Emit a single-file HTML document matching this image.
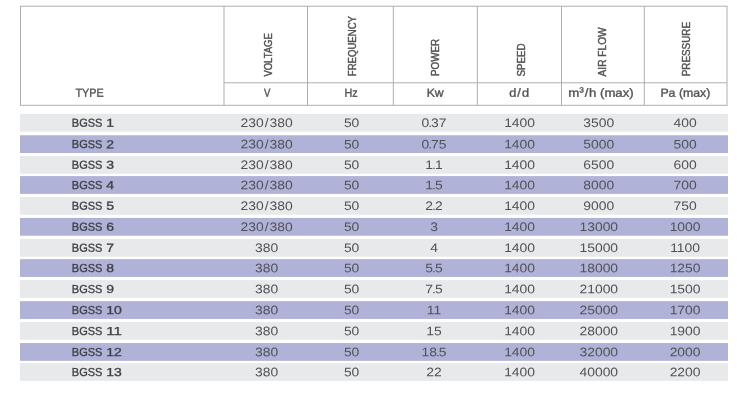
<!DOCTYPE html>
<html lang="en">
<head>
<meta charset="utf-8">
<title>BGSS specifications</title>
<style>
html,body{margin:0;padding:0;background:#fff;}
body{width:737px;height:409px;overflow:hidden;}
svg{display:block;}
text{font-family:"Liberation Sans",sans-serif;}
</style>
</head>
<body>
<svg width="737" height="409" viewBox="0 0 737 409">
<rect x="0" y="0" width="737" height="409" fill="#fff"/>
<g fill="none" stroke="#adaeb2" stroke-width="1">
<rect x="20.5" y="6.2" width="706.5" height="99.1"/>
<line x1="224.0" y1="6.2" x2="224.0" y2="105.3"/>
<line x1="307.5" y1="6.2" x2="307.5" y2="105.3"/>
<line x1="393.3" y1="6.2" x2="393.3" y2="105.3"/>
<line x1="477.3" y1="6.2" x2="477.3" y2="105.3"/>
<line x1="561.5" y1="6.2" x2="561.5" y2="105.3"/>
<line x1="644.3" y1="6.2" x2="644.3" y2="105.3"/>
<line x1="224.0" y1="82.8" x2="727.0" y2="82.8"/>
</g>
<g fill="#525256" stroke="#525256" stroke-width="0.42" font-size="10.3">
<text transform="translate(272.0 76.6) rotate(-90)" textLength="43.4" lengthAdjust="spacingAndGlyphs">VOLTAGE</text>
<text transform="translate(356.0 76.2) rotate(-90)" textLength="60.2" lengthAdjust="spacingAndGlyphs">FREQUENCY</text>
<text transform="translate(439.3 76.0) rotate(-90)" textLength="37.0" lengthAdjust="spacingAndGlyphs">POWER</text>
<text transform="translate(524.5 76.4) rotate(-90)" textLength="33.0" lengthAdjust="spacingAndGlyphs">SPEED</text>
<text transform="translate(605.7 76.4) rotate(-90)" textLength="49.0" lengthAdjust="spacingAndGlyphs">AIR FLOW</text>
<text transform="translate(690.4 76.3) rotate(-90)" textLength="54.4" lengthAdjust="spacingAndGlyphs">PRESSURE</text>
</g>
<g fill="#525256" stroke="#525256" stroke-width="0.35" font-size="11.8" text-anchor="middle">
<text transform="matrix(1 0.002 0 1 89.6 96.7)" textLength="28.2" lengthAdjust="spacingAndGlyphs">TYPE</text>
<text transform="matrix(1 0.002 0 1 267.2 96.7)" textLength="6.4" lengthAdjust="spacingAndGlyphs">V</text>
<text transform="matrix(1 0.002 0 1 351.0 96.7)" textLength="13.2" lengthAdjust="spacingAndGlyphs">Hz</text>
<text transform="matrix(1 0.002 0 1 435.2 96.7)" textLength="17.0" lengthAdjust="spacingAndGlyphs">Kw</text>
<text transform="matrix(1.08 0.002 0 1 519.1 96.7)">d<tspan dx="1">/</tspan><tspan dx="1">d</tspan></text>
<text transform="matrix(1.118 0.002 0 1 601.0 96.7)">m<tspan font-size="7.5" dy="-4.2">3</tspan><tspan dy="4.2" dx="0.6">/</tspan><tspan dx="0.6">h (max)</tspan></text>
<text transform="matrix(1 0.002 0 1 685.4 96.7)" textLength="50.0" lengthAdjust="spacingAndGlyphs">Pa (max)</text>
</g>
<rect x="20" y="113.85" width="708" height="17.8" fill="#e8e9ea"/>
<rect x="20" y="135.25" width="708" height="17.8" fill="#b0b2d8"/>
<rect x="20" y="155.95" width="708" height="17.8" fill="#e8e9ea"/>
<rect x="20" y="176.10" width="708" height="17.8" fill="#b0b2d8"/>
<rect x="20" y="196.95" width="708" height="17.8" fill="#e8e9ea"/>
<rect x="20" y="217.95" width="708" height="17.8" fill="#b0b2d8"/>
<rect x="20" y="238.95" width="708" height="17.8" fill="#e8e9ea"/>
<rect x="20" y="259.15" width="708" height="17.8" fill="#b0b2d8"/>
<rect x="20" y="280.05" width="708" height="17.8" fill="#e8e9ea"/>
<rect x="20" y="301.15" width="708" height="17.8" fill="#b0b2d8"/>
<rect x="20" y="322.05" width="708" height="17.8" fill="#e8e9ea"/>
<rect x="20" y="343.05" width="708" height="17.8" fill="#b0b2d8"/>
<rect x="20" y="363.05" width="708" height="17.8" fill="#e8e9ea"/>
<text transform="matrix(1 0.002 0 1 71.8 126.70)" font-size="11.6" fill="#404046" stroke="#404046" stroke-width="0.32"><tspan textLength="33.66" lengthAdjust="spacingAndGlyphs">BGSS </tspan><tspan dx="0.84" textLength="7.8" lengthAdjust="spacingAndGlyphs">1</tspan></text>
<text transform="matrix(1.12 0.002 0 1 266.6 127.00)" font-size="12.4" fill="#525256" text-anchor="middle">230<tspan dx="0.9">/</tspan><tspan dx="0.9">380</tspan></text>
<text transform="matrix(1.12 0.002 0 1 351.6 127.00)" font-size="12.4" fill="#525256" text-anchor="middle">50</text>
<text transform="matrix(1.12 0.002 0 1 434.0 127.00)" font-size="12.4" fill="#525256" text-anchor="middle">0<tspan dx="-0.9">.</tspan><tspan dx="-0.9">37</tspan></text>
<text transform="matrix(1.12 0.002 0 1 519.6 127.00)" font-size="12.4" fill="#525256" text-anchor="middle">1400</text>
<text transform="matrix(1.12 0.002 0 1 598.8 127.00)" font-size="12.4" fill="#525256" text-anchor="middle">3500</text>
<text transform="matrix(1.12 0.002 0 1 685.1 127.00)" font-size="12.4" fill="#525256" text-anchor="middle">400</text>
<text transform="matrix(1 0.002 0 1 71.8 148.10)" font-size="11.6" fill="#404046" stroke="#404046" stroke-width="0.32"><tspan textLength="33.66" lengthAdjust="spacingAndGlyphs">BGSS </tspan><tspan dx="0.84" textLength="7.8" lengthAdjust="spacingAndGlyphs">2</tspan></text>
<text transform="matrix(1.12 0.002 0 1 266.6 148.40)" font-size="12.4" fill="#525256" text-anchor="middle">230<tspan dx="0.9">/</tspan><tspan dx="0.9">380</tspan></text>
<text transform="matrix(1.12 0.002 0 1 351.6 148.40)" font-size="12.4" fill="#525256" text-anchor="middle">50</text>
<text transform="matrix(1.12 0.002 0 1 434.0 148.40)" font-size="12.4" fill="#525256" text-anchor="middle">0<tspan dx="-0.9">.</tspan><tspan dx="-0.9">75</tspan></text>
<text transform="matrix(1.12 0.002 0 1 519.6 148.40)" font-size="12.4" fill="#525256" text-anchor="middle">1400</text>
<text transform="matrix(1.12 0.002 0 1 598.8 148.40)" font-size="12.4" fill="#525256" text-anchor="middle">5000</text>
<text transform="matrix(1.12 0.002 0 1 685.1 148.40)" font-size="12.4" fill="#525256" text-anchor="middle">500</text>
<text transform="matrix(1 0.002 0 1 71.8 168.80)" font-size="11.6" fill="#404046" stroke="#404046" stroke-width="0.32"><tspan textLength="33.66" lengthAdjust="spacingAndGlyphs">BGSS </tspan><tspan dx="0.84" textLength="7.8" lengthAdjust="spacingAndGlyphs">3</tspan></text>
<text transform="matrix(1.12 0.002 0 1 266.6 169.10)" font-size="12.4" fill="#525256" text-anchor="middle">230<tspan dx="0.9">/</tspan><tspan dx="0.9">380</tspan></text>
<text transform="matrix(1.12 0.002 0 1 351.6 169.10)" font-size="12.4" fill="#525256" text-anchor="middle">50</text>
<text transform="matrix(1.12 0.002 0 1 434.0 169.10)" font-size="12.4" fill="#525256" text-anchor="middle">1<tspan dx="-0.9">.</tspan><tspan dx="-0.9">1</tspan></text>
<text transform="matrix(1.12 0.002 0 1 519.6 169.10)" font-size="12.4" fill="#525256" text-anchor="middle">1400</text>
<text transform="matrix(1.12 0.002 0 1 598.8 169.10)" font-size="12.4" fill="#525256" text-anchor="middle">6500</text>
<text transform="matrix(1.12 0.002 0 1 685.1 169.10)" font-size="12.4" fill="#525256" text-anchor="middle">600</text>
<text transform="matrix(1 0.002 0 1 71.8 188.95)" font-size="11.6" fill="#404046" stroke="#404046" stroke-width="0.32"><tspan textLength="33.66" lengthAdjust="spacingAndGlyphs">BGSS </tspan><tspan dx="0.84" textLength="7.8" lengthAdjust="spacingAndGlyphs">4</tspan></text>
<text transform="matrix(1.12 0.002 0 1 266.6 189.25)" font-size="12.4" fill="#525256" text-anchor="middle">230<tspan dx="0.9">/</tspan><tspan dx="0.9">380</tspan></text>
<text transform="matrix(1.12 0.002 0 1 351.6 189.25)" font-size="12.4" fill="#525256" text-anchor="middle">50</text>
<text transform="matrix(1.12 0.002 0 1 434.0 189.25)" font-size="12.4" fill="#525256" text-anchor="middle">1<tspan dx="-0.9">.</tspan><tspan dx="-0.9">5</tspan></text>
<text transform="matrix(1.12 0.002 0 1 519.6 189.25)" font-size="12.4" fill="#525256" text-anchor="middle">1400</text>
<text transform="matrix(1.12 0.002 0 1 598.8 189.25)" font-size="12.4" fill="#525256" text-anchor="middle">8000</text>
<text transform="matrix(1.12 0.002 0 1 685.1 189.25)" font-size="12.4" fill="#525256" text-anchor="middle">700</text>
<text transform="matrix(1 0.002 0 1 71.8 209.80)" font-size="11.6" fill="#404046" stroke="#404046" stroke-width="0.32"><tspan textLength="33.66" lengthAdjust="spacingAndGlyphs">BGSS </tspan><tspan dx="0.84" textLength="7.8" lengthAdjust="spacingAndGlyphs">5</tspan></text>
<text transform="matrix(1.12 0.002 0 1 266.6 210.10)" font-size="12.4" fill="#525256" text-anchor="middle">230<tspan dx="0.9">/</tspan><tspan dx="0.9">380</tspan></text>
<text transform="matrix(1.12 0.002 0 1 351.6 210.10)" font-size="12.4" fill="#525256" text-anchor="middle">50</text>
<text transform="matrix(1.12 0.002 0 1 434.0 210.10)" font-size="12.4" fill="#525256" text-anchor="middle">2<tspan dx="-0.9">.</tspan><tspan dx="-0.9">2</tspan></text>
<text transform="matrix(1.12 0.002 0 1 519.6 210.10)" font-size="12.4" fill="#525256" text-anchor="middle">1400</text>
<text transform="matrix(1.12 0.002 0 1 598.8 210.10)" font-size="12.4" fill="#525256" text-anchor="middle">9000</text>
<text transform="matrix(1.12 0.002 0 1 685.1 210.10)" font-size="12.4" fill="#525256" text-anchor="middle">750</text>
<text transform="matrix(1 0.002 0 1 71.8 230.80)" font-size="11.6" fill="#404046" stroke="#404046" stroke-width="0.32"><tspan textLength="33.66" lengthAdjust="spacingAndGlyphs">BGSS </tspan><tspan dx="0.84" textLength="7.8" lengthAdjust="spacingAndGlyphs">6</tspan></text>
<text transform="matrix(1.12 0.002 0 1 266.6 231.10)" font-size="12.4" fill="#525256" text-anchor="middle">230<tspan dx="0.9">/</tspan><tspan dx="0.9">380</tspan></text>
<text transform="matrix(1.12 0.002 0 1 351.6 231.10)" font-size="12.4" fill="#525256" text-anchor="middle">50</text>
<text transform="matrix(1.12 0.002 0 1 434.0 231.10)" font-size="12.4" fill="#525256" text-anchor="middle">3</text>
<text transform="matrix(1.12 0.002 0 1 519.6 231.10)" font-size="12.4" fill="#525256" text-anchor="middle">1400</text>
<text transform="matrix(1.12 0.002 0 1 598.8 231.10)" font-size="12.4" fill="#525256" text-anchor="middle">13000</text>
<text transform="matrix(1.12 0.002 0 1 685.1 231.10)" font-size="12.4" fill="#525256" text-anchor="middle">1000</text>
<text transform="matrix(1 0.002 0 1 71.8 251.80)" font-size="11.6" fill="#404046" stroke="#404046" stroke-width="0.32"><tspan textLength="33.66" lengthAdjust="spacingAndGlyphs">BGSS </tspan><tspan dx="0.84" textLength="7.8" lengthAdjust="spacingAndGlyphs">7</tspan></text>
<text transform="matrix(1.12 0.002 0 1 266.6 252.10)" font-size="12.4" fill="#525256" text-anchor="middle">380</text>
<text transform="matrix(1.12 0.002 0 1 351.6 252.10)" font-size="12.4" fill="#525256" text-anchor="middle">50</text>
<text transform="matrix(1.12 0.002 0 1 434.0 252.10)" font-size="12.4" fill="#525256" text-anchor="middle">4</text>
<text transform="matrix(1.12 0.002 0 1 519.6 252.10)" font-size="12.4" fill="#525256" text-anchor="middle">1400</text>
<text transform="matrix(1.12 0.002 0 1 598.8 252.10)" font-size="12.4" fill="#525256" text-anchor="middle">15000</text>
<text transform="matrix(1.12 0.002 0 1 685.1 252.10)" font-size="12.4" fill="#525256" text-anchor="middle">1100</text>
<text transform="matrix(1 0.002 0 1 71.8 272.00)" font-size="11.6" fill="#404046" stroke="#404046" stroke-width="0.32"><tspan textLength="33.66" lengthAdjust="spacingAndGlyphs">BGSS </tspan><tspan dx="0.84" textLength="7.8" lengthAdjust="spacingAndGlyphs">8</tspan></text>
<text transform="matrix(1.12 0.002 0 1 266.6 272.30)" font-size="12.4" fill="#525256" text-anchor="middle">380</text>
<text transform="matrix(1.12 0.002 0 1 351.6 272.30)" font-size="12.4" fill="#525256" text-anchor="middle">50</text>
<text transform="matrix(1.12 0.002 0 1 434.0 272.30)" font-size="12.4" fill="#525256" text-anchor="middle">5<tspan dx="-0.9">.</tspan><tspan dx="-0.9">5</tspan></text>
<text transform="matrix(1.12 0.002 0 1 519.6 272.30)" font-size="12.4" fill="#525256" text-anchor="middle">1400</text>
<text transform="matrix(1.12 0.002 0 1 598.8 272.30)" font-size="12.4" fill="#525256" text-anchor="middle">18000</text>
<text transform="matrix(1.12 0.002 0 1 685.1 272.30)" font-size="12.4" fill="#525256" text-anchor="middle">1250</text>
<text transform="matrix(1 0.002 0 1 71.8 292.90)" font-size="11.6" fill="#404046" stroke="#404046" stroke-width="0.32"><tspan textLength="33.66" lengthAdjust="spacingAndGlyphs">BGSS </tspan><tspan dx="0.84" textLength="7.8" lengthAdjust="spacingAndGlyphs">9</tspan></text>
<text transform="matrix(1.12 0.002 0 1 266.6 293.20)" font-size="12.4" fill="#525256" text-anchor="middle">380</text>
<text transform="matrix(1.12 0.002 0 1 351.6 293.20)" font-size="12.4" fill="#525256" text-anchor="middle">50</text>
<text transform="matrix(1.12 0.002 0 1 434.0 293.20)" font-size="12.4" fill="#525256" text-anchor="middle">7<tspan dx="-0.9">.</tspan><tspan dx="-0.9">5</tspan></text>
<text transform="matrix(1.12 0.002 0 1 519.6 293.20)" font-size="12.4" fill="#525256" text-anchor="middle">1400</text>
<text transform="matrix(1.12 0.002 0 1 598.8 293.20)" font-size="12.4" fill="#525256" text-anchor="middle">21000</text>
<text transform="matrix(1.12 0.002 0 1 685.1 293.20)" font-size="12.4" fill="#525256" text-anchor="middle">1500</text>
<text transform="matrix(1 0.002 0 1 71.8 314.00)" font-size="11.6" fill="#404046" stroke="#404046" stroke-width="0.32"><tspan textLength="33.66" lengthAdjust="spacingAndGlyphs">BGSS </tspan><tspan dx="0.84" textLength="15.6" lengthAdjust="spacingAndGlyphs">10</tspan></text>
<text transform="matrix(1.12 0.002 0 1 266.6 314.30)" font-size="12.4" fill="#525256" text-anchor="middle">380</text>
<text transform="matrix(1.12 0.002 0 1 351.6 314.30)" font-size="12.4" fill="#525256" text-anchor="middle">50</text>
<text transform="matrix(1.12 0.002 0 1 434.0 314.30)" font-size="12.4" fill="#525256" text-anchor="middle">11</text>
<text transform="matrix(1.12 0.002 0 1 519.6 314.30)" font-size="12.4" fill="#525256" text-anchor="middle">1400</text>
<text transform="matrix(1.12 0.002 0 1 598.8 314.30)" font-size="12.4" fill="#525256" text-anchor="middle">25000</text>
<text transform="matrix(1.12 0.002 0 1 685.1 314.30)" font-size="12.4" fill="#525256" text-anchor="middle">1700</text>
<text transform="matrix(1 0.002 0 1 71.8 334.90)" font-size="11.6" fill="#404046" stroke="#404046" stroke-width="0.32"><tspan textLength="33.66" lengthAdjust="spacingAndGlyphs">BGSS </tspan><tspan dx="0.84" textLength="15.6" lengthAdjust="spacingAndGlyphs">11</tspan></text>
<text transform="matrix(1.12 0.002 0 1 266.6 335.20)" font-size="12.4" fill="#525256" text-anchor="middle">380</text>
<text transform="matrix(1.12 0.002 0 1 351.6 335.20)" font-size="12.4" fill="#525256" text-anchor="middle">50</text>
<text transform="matrix(1.12 0.002 0 1 434.0 335.20)" font-size="12.4" fill="#525256" text-anchor="middle">15</text>
<text transform="matrix(1.12 0.002 0 1 519.6 335.20)" font-size="12.4" fill="#525256" text-anchor="middle">1400</text>
<text transform="matrix(1.12 0.002 0 1 598.8 335.20)" font-size="12.4" fill="#525256" text-anchor="middle">28000</text>
<text transform="matrix(1.12 0.002 0 1 685.1 335.20)" font-size="12.4" fill="#525256" text-anchor="middle">1900</text>
<text transform="matrix(1 0.002 0 1 71.8 355.90)" font-size="11.6" fill="#404046" stroke="#404046" stroke-width="0.32"><tspan textLength="33.66" lengthAdjust="spacingAndGlyphs">BGSS </tspan><tspan dx="0.84" textLength="15.6" lengthAdjust="spacingAndGlyphs">12</tspan></text>
<text transform="matrix(1.12 0.002 0 1 266.6 356.20)" font-size="12.4" fill="#525256" text-anchor="middle">380</text>
<text transform="matrix(1.12 0.002 0 1 351.6 356.20)" font-size="12.4" fill="#525256" text-anchor="middle">50</text>
<text transform="matrix(1.12 0.002 0 1 434.0 356.20)" font-size="12.4" fill="#525256" text-anchor="middle">18<tspan dx="-0.9">.</tspan><tspan dx="-0.9">5</tspan></text>
<text transform="matrix(1.12 0.002 0 1 519.6 356.20)" font-size="12.4" fill="#525256" text-anchor="middle">1400</text>
<text transform="matrix(1.12 0.002 0 1 598.8 356.20)" font-size="12.4" fill="#525256" text-anchor="middle">32000</text>
<text transform="matrix(1.12 0.002 0 1 685.1 356.20)" font-size="12.4" fill="#525256" text-anchor="middle">2000</text>
<text transform="matrix(1 0.002 0 1 71.8 375.90)" font-size="11.6" fill="#404046" stroke="#404046" stroke-width="0.32"><tspan textLength="33.66" lengthAdjust="spacingAndGlyphs">BGSS </tspan><tspan dx="0.84" textLength="15.6" lengthAdjust="spacingAndGlyphs">13</tspan></text>
<text transform="matrix(1.12 0.002 0 1 266.6 376.20)" font-size="12.4" fill="#525256" text-anchor="middle">380</text>
<text transform="matrix(1.12 0.002 0 1 351.6 376.20)" font-size="12.4" fill="#525256" text-anchor="middle">50</text>
<text transform="matrix(1.12 0.002 0 1 434.0 376.20)" font-size="12.4" fill="#525256" text-anchor="middle">22</text>
<text transform="matrix(1.12 0.002 0 1 519.6 376.20)" font-size="12.4" fill="#525256" text-anchor="middle">1400</text>
<text transform="matrix(1.12 0.002 0 1 598.8 376.20)" font-size="12.4" fill="#525256" text-anchor="middle">40000</text>
<text transform="matrix(1.12 0.002 0 1 685.1 376.20)" font-size="12.4" fill="#525256" text-anchor="middle">2200</text>
</svg>
</body>
</html>
